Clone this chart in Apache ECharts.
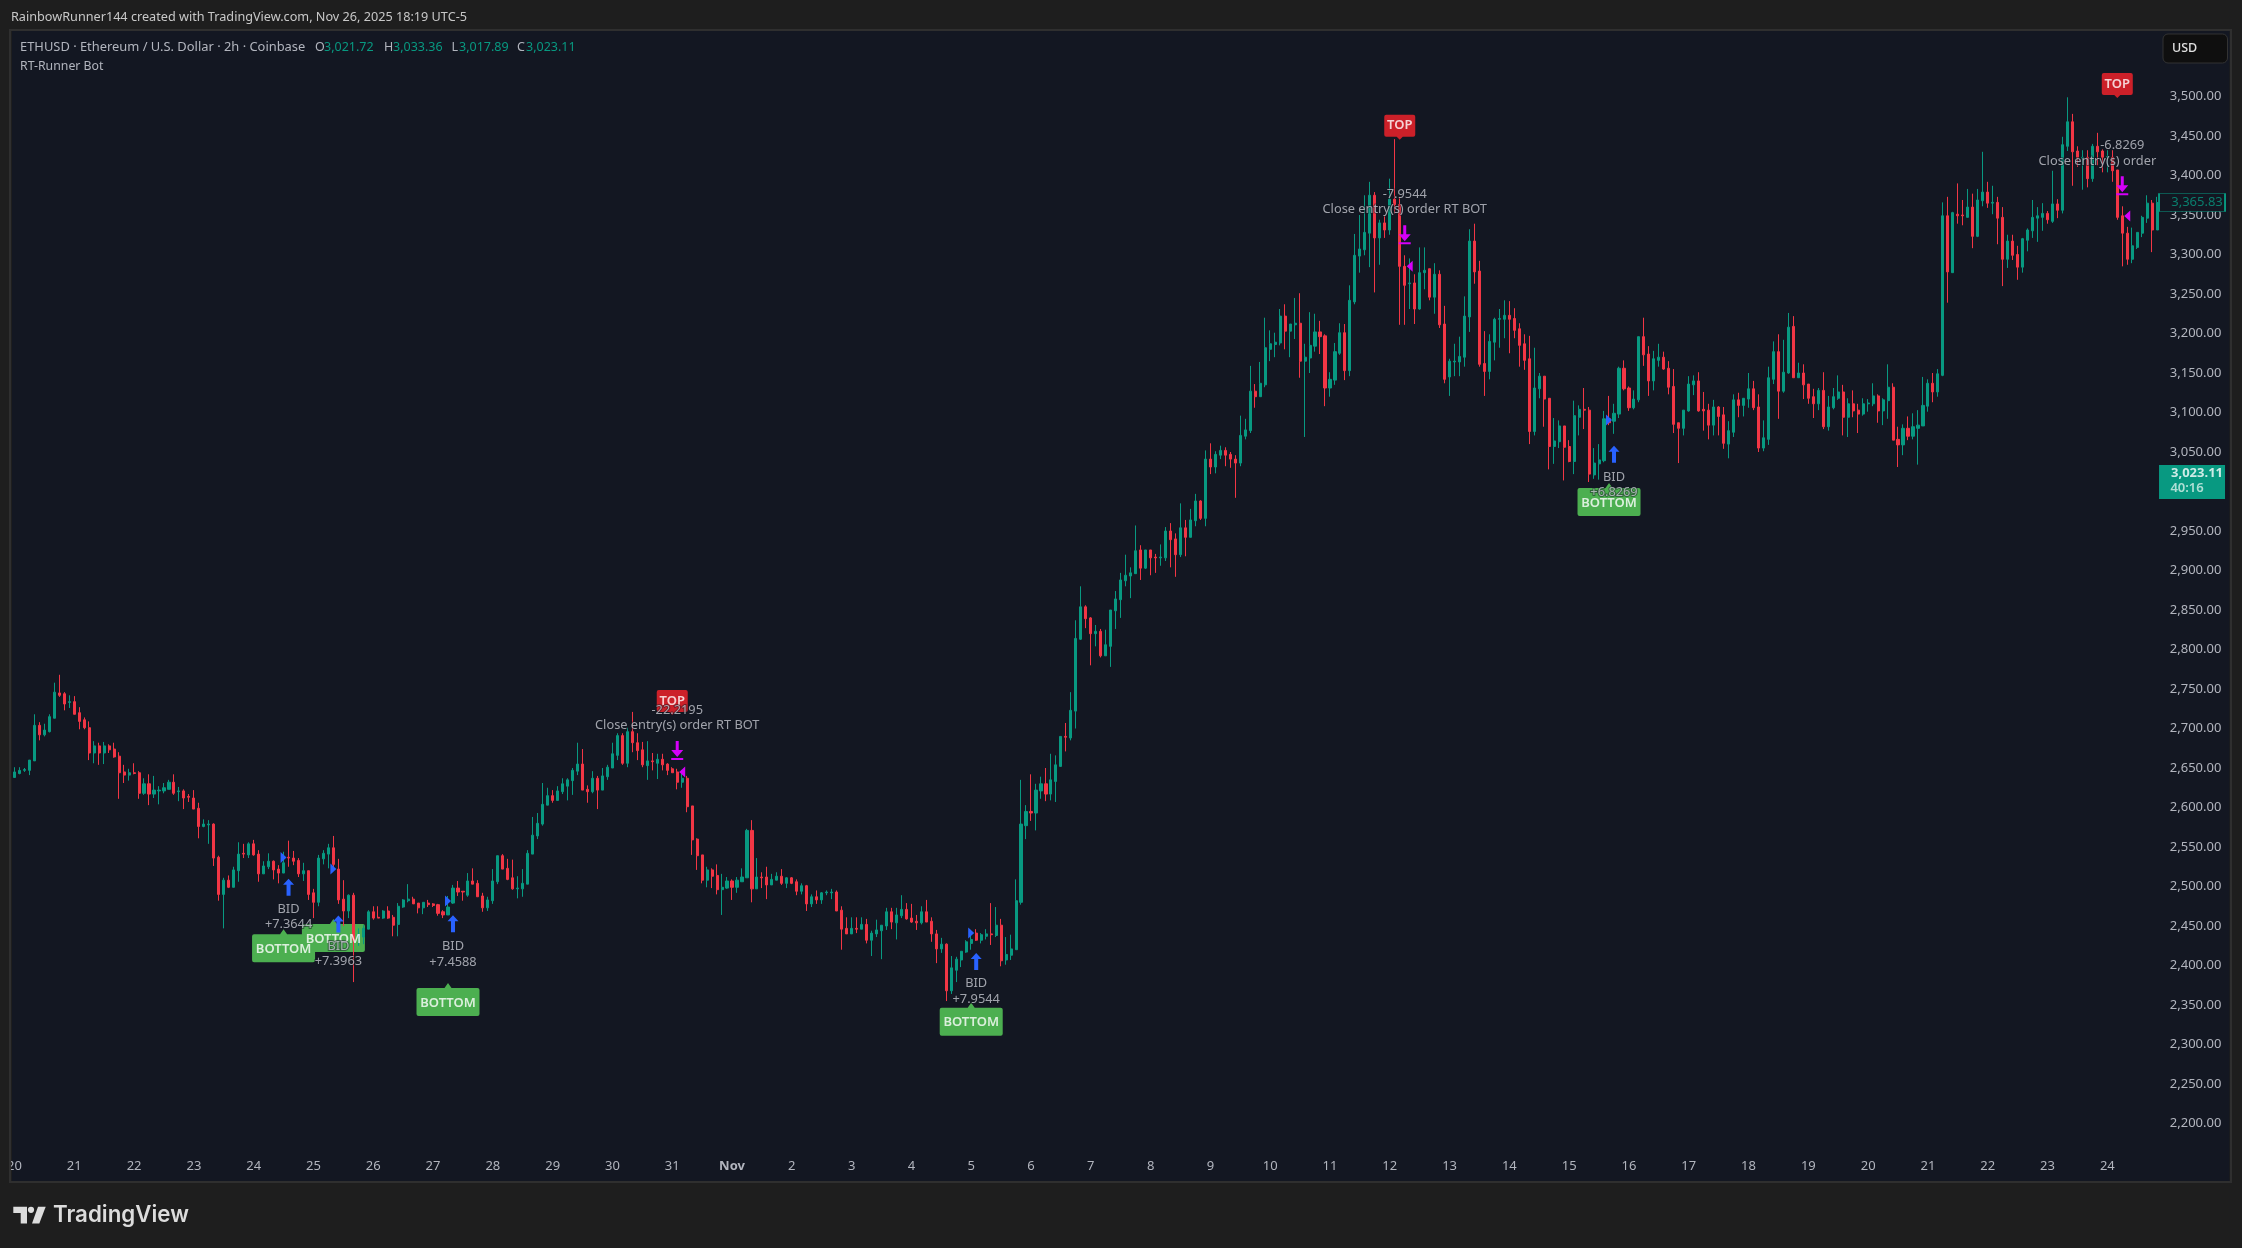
<!DOCTYPE html>
<html>
<head>
<meta charset="utf-8">
<title>ETHUSD 2h</title>
<script src="https://cdn.jsdelivr.net/npm/echarts@6/dist/echarts.min.js"></script>
<style>
  html, body { margin: 0; padding: 0; background: #1e1e1e; }
  #chart { width: 2242px; height: 1248px; }
</style>
</head>
<body>
<div id="chart"></div>
<script>
const opens = [
  2638,2643,2647,2647,2659,2704,2692,2696,2713,2745,
  2744,2733,2734,2720,2711,2701,2669,2678,2669,2678,
  2674,2665,2645,2641,2644,2644,2618,2630,2617,2621,
  2621,2623,2632,2620,2621,2614,2612,2599,2576,2578,
  2579,2537,2490,2508,2499,2520,2542,2540,2554,2541,
  2516,2525,2532,2522,2517,2537,2536,2533,2516,2520,
  2492,2480,2535,2541,2549,2522,2484,2469,2489,2436,
  2436,2446,2468,2461,2460,2469,2461,2452,2474,2482,
  2484,2479,2473,2479,2478,2477,2468,2464,2479,2498,
  2494,2489,2507,2504,2488,2473,2482,2506,2539,2523,
  2511,2497,2497,2503,2541,2564,2579,2603,2615,2609,
  2620,2627,2634,2646,2655,2623,2620,2637,2622,2639,
  2650,2666,2691,2656,2696,2682,2673,2653,2659,2656,
  2661,2655,2649,2645,2632,2637,2602,2560,2540,2508,
  2521,2514,2496,2498,2507,2499,2506,2511,2571,2497,
  2512,2512,2502,2508,2513,2504,2511,2506,2494,2501,
  2478,2487,2483,2492,2492,2493,2470,2447,2440,2447,
  2446,2452,2432,2440,2444,2450,2468,2454,2463,2471,
  2460,2456,2454,2468,2456,2440,2421,2427,2368,2394,
  2407,2417,2428,2441,2432,2437,2440,2438,2451,2407,
  2413,2420,2480,2577,2595,2593,2621,2630,2617,2633,
  2652,2690,2688,2722,2813,2854,2840,2820,2823,2792,
  2804,2849,2863,2887,2893,2896,2926,2903,2926,2917,
  2916,2916,2950,2940,2920,2954,2942,2963,2988,2966,
  3041,3031,3046,3052,3047,3041,3036,3070,3077,3127,
  3120,3135,3180,3186,3188,3222,3203,3211,3213,3165,
  3169,3184,3202,3197,3131,3141,3175,3201,3153,3240,
  3298,3306,3327,3375,3321,3340,3331,3370,3363,3285,
  3263,3264,3231,3277,3282,3246,3275,3212,3145,3164,
  3164,3170,3221,3317,3279,3162,3152,3189,3218,3218,
  3223,3219,3206,3187,3168,3076,3130,3146,3118,3057,
  3063,3083,3057,3038,3094,3104,3103,3021,3035,3039,
  3092,3089,3098,3156,3131,3106,3116,3196,3174,3140,
  3166,3170,3156,3133,3087,3080,3102,3135,3140,3104,
  3103,3084,3107,3097,3060,3075,3116,3109,3117,3130,
  3107,3055,3066,3142,3177,3127,3150,3209,3144,3150,
  3136,3120,3111,3128,3082,3106,3118,3126,3094,3111,
  3103,3098,3111,3111,3121,3102,3115,3132,3066,3059,
  3080,3070,3080,3083,3108,3137,3126,3147,3349,3277,
  3351,3350,3347,3360,3323,3368,3379,3365,3366,3347,
  3294,3317,3300,3284,3318,3330,3346,3347,3352,3342,
  3364,3356,3437,3468,3431,3422,3423,3396,3437,3431,
  3423,3423,3407,3349,3327,3294,3309,3327,3346,3365,3331
]

const closes = [
  2645,2647,2648,2660,2704,2692,2698,2715,2746,2742,
  2731,2734,2718,2709,2701,2669,2678,2669,2678,2673,
  2664,2644,2641,2644,2643,2618,2630,2617,2622,2622,
  2625,2632,2618,2621,2612,2613,2598,2576,2579,2579,
  2536,2490,2508,2499,2521,2541,2541,2554,2540,2516,
  2526,2532,2521,2517,2530,2536,2532,2516,2520,2490,
  2480,2536,2542,2549,2528,2483,2469,2489,2432,2439,
  2447,2468,2460,2460,2469,2460,2451,2475,2483,2484,
  2478,2473,2480,2477,2476,2466,2464,2474,2498,2493,
  2493,2507,2503,2487,2473,2483,2507,2539,2522,2509,
  2497,2498,2504,2542,2565,2580,2604,2615,2609,2621,
  2630,2635,2647,2655,2622,2620,2637,2622,2640,2651,
  2668,2691,2656,2696,2682,2672,2654,2659,2658,2661,
  2654,2647,2644,2632,2637,2601,2559,2539,2508,2521,
  2513,2496,2499,2507,2499,2508,2512,2571,2497,2512,
  2511,2502,2509,2513,2504,2511,2504,2494,2501,2478,
  2487,2483,2492,2493,2493,2469,2446,2440,2447,2446,
  2452,2432,2441,2445,2451,2468,2455,2464,2471,2459,
  2455,2454,2468,2455,2440,2421,2427,2368,2397,2408,
  2418,2430,2433,2432,2439,2440,2439,2451,2406,2414,
  2421,2482,2579,2595,2593,2622,2630,2617,2635,2654,
  2690,2689,2723,2814,2854,2839,2820,2823,2792,2806,
  2850,2864,2888,2894,2897,2925,2903,2926,2916,2916,
  2917,2950,2939,2920,2954,2942,2964,2988,2966,3041,
  3031,3047,3052,3046,3041,3036,3071,3078,3127,3120,
  3137,3182,3187,3189,3222,3203,3212,3213,3165,3170,
  3185,3202,3196,3131,3142,3177,3201,3153,3242,3299,
  3307,3328,3375,3321,3340,3331,3370,3363,3285,3261,
  3264,3231,3277,3280,3246,3275,3211,3142,3165,3165,
  3171,3222,3317,3278,3161,3152,3190,3218,3219,3223,
  3218,3204,3185,3166,3076,3131,3146,3117,3057,3064,
  3083,3056,3038,3096,3104,3103,3022,3036,3040,3092,
  3087,3099,3156,3130,3106,3117,3196,3173,3140,3168,
  3170,3155,3132,3085,3080,3103,3136,3140,3102,3102,
  3084,3107,3095,3061,3077,3116,3109,3118,3130,3106,
  3055,3068,3144,3177,3127,3151,3208,3144,3150,3135,
  3118,3111,3128,3082,3107,3120,3126,3094,3111,3102,
  3098,3111,3112,3121,3102,3116,3132,3065,3059,3080,
  3070,3082,3084,3109,3137,3126,3149,3349,3278,3353,
  3349,3349,3360,3323,3369,3379,3365,3366,3346,3294,
  3317,3299,3284,3320,3331,3347,3349,3352,3344,3364,
  3356,3439,3468,3430,3423,3423,3396,3437,3430,3423,
  3424,3406,3347,3327,3294,3311,3328,3347,3365,3331,3365.83
]

const highs = [
  2651,2651,2650,2660,2718,2708,2706,2718,2758,2768,
  2746,2742,2741,2727,2714,2709,2684,2682,2683,2680,
  2682,2670,2654,2649,2656,2646,2637,2642,2640,2627,
  2631,2635,2642,2626,2623,2617,2622,2606,2585,2584,
  2580,2539,2511,2514,2525,2556,2554,2556,2559,2546,
  2532,2542,2533,2527,2544,2558,2545,2536,2530,2520,
  2497,2540,2546,2554,2564,2535,2508,2490,2492,2447,
  2451,2470,2475,2475,2470,2475,2464,2479,2484,2503,
  2487,2479,2480,2483,2479,2478,2470,2488,2502,2507,
  2494,2517,2523,2508,2492,2487,2522,2539,2541,2535,
  2534,2513,2522,2546,2588,2593,2631,2625,2622,2627,
  2637,2637,2650,2682,2674,2628,2646,2640,2650,2654,
  2682,2694,2694,2701,2721,2694,2683,2684,2669,2668,
  2668,2656,2651,2649,2647,2640,2602,2561,2540,2525,
  2523,2528,2516,2512,2509,2512,2523,2573,2584,2536,
  2518,2525,2516,2518,2522,2512,2512,2509,2504,2502,
  2490,2495,2493,2495,2497,2495,2475,2461,2461,2461,
  2461,2459,2444,2458,2451,2473,2473,2473,2489,2479,
  2478,2464,2475,2483,2461,2445,2435,2428,2412,2411,
  2418,2432,2445,2446,2441,2446,2479,2474,2459,2436,
  2439,2509,2635,2603,2642,2630,2639,2650,2668,2666,
  2690,2707,2746,2837,2880,2856,2841,2831,2826,2825,
  2850,2874,2897,2920,2904,2957,2932,2926,2926,2921,
  2933,2955,2960,2947,2985,2964,2978,2997,2989,3052,
  3061,3051,3058,3056,3050,3046,3096,3092,3159,3136,
  3164,3220,3204,3201,3231,3237,3212,3245,3251,3187,
  3227,3225,3216,3199,3151,3188,3213,3212,3261,3326,
  3350,3375,3392,3379,3344,3349,3396,3446,3373,3299,
  3295,3275,3309,3309,3282,3289,3280,3235,3168,3187,
  3196,3247,3332,3339,3292,3203,3199,3220,3231,3242,
  3241,3232,3213,3199,3197,3182,3150,3146,3118,3093,
  3090,3083,3065,3115,3109,3131,3107,3055,3060,3102,
  3121,3111,3158,3166,3133,3128,3196,3220,3184,3178,
  3187,3177,3165,3155,3087,3103,3146,3147,3151,3126,
  3111,3116,3108,3107,3089,3123,3125,3118,3150,3140,
  3123,3090,3158,3190,3199,3192,3226,3222,3163,3161,
  3136,3130,3131,3151,3121,3131,3147,3135,3118,3128,
  3111,3118,3117,3137,3123,3118,3161,3137,3082,3085,
  3095,3099,3103,3145,3142,3150,3155,3366,3373,3354,
  3390,3369,3383,3377,3383,3430,3392,3387,3373,3360,
  3325,3325,3311,3321,3333,3369,3360,3365,3355,3406,
  3370,3449,3499,3478,3437,3432,3432,3440,3454,3433,
  3432,3432,3407,3361,3335,3334,3328,3349,3375,3369,3373
]

const lows = [
  2638,2642,2645,2641,2659,2685,2690,2695,2713,2740,
  2723,2726,2718,2699,2699,2660,2656,2654,2655,2669,
  2663,2611,2631,2634,2642,2611,2616,2603,2612,2604,
  2618,2623,2616,2608,2598,2607,2598,2561,2575,2554,
  2526,2482,2447,2498,2499,2506,2536,2536,2539,2506,
  2516,2522,2509,2504,2517,2525,2527,2512,2507,2483,
  2460,2475,2528,2523,2521,2478,2450,2460,2379,2425,
  2427,2446,2458,2460,2459,2459,2437,2437,2473,2480,
  2478,2466,2465,2474,2474,2463,2460,2464,2478,2488,
  2482,2487,2503,2487,2468,2469,2478,2503,2522,2508,
  2496,2485,2487,2503,2541,2560,2577,2603,2606,2609,
  2617,2609,2616,2641,2622,2606,2618,2598,2622,2635,
  2650,2660,2654,2651,2670,2660,2651,2635,2647,2636,
  2647,2641,2644,2623,2625,2594,2540,2521,2504,2499,
  2498,2490,2464,2497,2483,2492,2506,2511,2480,2497,
  2498,2484,2502,2508,2502,2498,2503,2489,2490,2469,
  2474,2478,2478,2489,2484,2469,2420,2440,2440,2441,
  2446,2428,2412,2436,2408,2445,2446,2433,2460,2458,
  2454,2445,2452,2455,2430,2403,2416,2355,2364,2379,
  2398,2416,2420,2431,2428,2433,2426,2436,2399,2401,
  2407,2420,2477,2560,2583,2571,2611,2608,2609,2607,
  2652,2671,2685,2700,2812,2827,2780,2804,2790,2792,
  2778,2826,2840,2880,2865,2896,2888,2902,2894,2897,
  2906,2912,2904,2892,2917,2918,2942,2956,2964,2956,
  3022,3023,3041,3032,3030,2992,3032,3066,3074,3106,
  3120,3132,3165,3170,3185,3180,3170,3193,3144,3069,
  3150,3177,3174,3108,3120,3135,3173,3141,3146,3237,
  3277,3299,3284,3252,3287,3321,3325,3352,3211,3211,
  3231,3212,3230,3256,3242,3225,3207,3137,3121,3146,
  3146,3158,3202,3263,3158,3121,3142,3166,3182,3194,
  3175,3194,3158,3154,3060,3071,3118,3082,3028,3035,
  3055,3014,3037,3022,3071,3079,3012,3016,3015,3037,
  3084,3073,3093,3128,3102,3104,3113,3159,3121,3128,
  3158,3154,3123,3074,3036,3071,3101,3122,3101,3077,
  3066,3071,3071,3054,3042,3069,3094,3095,3106,3103,
  3050,3051,3059,3136,3092,3125,3149,3144,3144,3117,
  3111,3093,3103,3079,3077,3104,3116,3071,3069,3094,
  3074,3096,3101,3108,3087,3084,3092,3065,3031,3046,
  3065,3066,3034,3083,3101,3113,3120,3146,3239,3277,
  3339,3337,3347,3308,3322,3361,3359,3351,3313,3260,
  3283,3293,3268,3277,3304,3321,3316,3330,3339,3340,
  3346,3352,3431,3387,3411,3382,3385,3392,3413,3404,
  3404,3392,3344,3285,3287,3289,3307,3322,3340,3303,3331
]

// one label every 12 bars (2h bars, so one a day)
const dayLabels = ['20','21','22','23','24','25','26','27','28','29','30','31','Nov',
  '2','3','4','5','6','7','8','9','10','11','12','13','14','15','16','17','18','19','20','21','22','23','24']
const emptyBars = 14

// signals: [bar, price]
const bottomBoxes = [[54, 2425], [64, 2438], [87, 2357], [192, 2332], [320, 2990]]
const topBoxes = [[132, 2733], [278, 3461], [422, 3514]]
const bidArrows = [[55, 2499], [65, 2452.5], [88, 2453], [193, 2405], [321, 3047]]
const entryMarks = [[54, 2536.6], [64, 2522], [87, 2481.6], [192, 2441], [320, 3090.5]]
const exitMarks = [[134, 2645], [280, 3285], [424, 3348.7]]
const exitArrows = [[133, 2672], [279, 3325], [423, 3387]]

const bottomLabels = [[54, 2420.5, 'BOTTOM'], [64, 2433.5, 'BOTTOM'], [87, 2352.5, 'BOTTOM'], [192, 2327.5, 'BOTTOM'], [320, 2985.5, 'BOTTOM']]
const topLabels = [[132, 2735, 'TOP'], [278, 3463, 'TOP'], [422, 3516, 'TOP']]
const orderLabels = [
  [55, 2470.5, 'BID'], [55, 2451.5, '+7.3644'],
  [65, 2423.7, 'BID'], [65, 2404.7, '+7.3963'],
  [88, 2424.6, 'BID'], [88, 2403.8, '+7.4588'],
  [193, 2377.2, 'BID'], [193, 2357, '+7.9544'],
  [321, 3017.7, 'BID'], [321, 2999.3, '+6.8269'],
  [133, 2722.4, '-22.2195'], [133, 2703.4, 'Close entry(s) order RT BOT'],
  [279, 3376, '-7.9544'], [279, 3357.5, 'Close entry(s) order RT BOT'],
  [423, 3438.5, '-6.8269'], [418, 3418.2, 'Close entry(s) order']
]

const lastBarClose = 3365.83
const lastPrice = 3023.11

const upColor = '#089981'
const downColor = '#f23645'
const paneColor = '#131722'
const frameColor = '#1e1e1e'
const lineColor = '#2f2f2f'
const textColor = '#b2b5be'
const fontName = '"Noto Sans", sans-serif'
const badgeBar = 437.3
const badgeTextBar = 437.6
const timerBar = 435.8

const categories = []
for (let i = 0; i < closes.length + emptyBars; i++) {
  categories.push(i % 12 === 0 && dayLabels[i / 12] ? dayLabels[i / 12] : '')
}

const candles = closes.map((c, i) => [opens[i], c, lows[i], highs[i]])

const textSeries = (data, z, label) => ({
  type: 'scatter',
  z,
  data,
  symbolSize: 0,
  silent: true,
  label: {
    show: true,
    position: 'inside',
    fontFamily: fontName,
    formatter: p => p.value[2],
    ...label,
  },
})

const markSeries = (data, z, symbol, symbolSize, color, extra) => ({
  type: 'scatter',
  z,
  data,
  symbol,
  symbolSize,
  silent: true,
  itemStyle: {color, opacity: 1},
  ...extra,
})

const frameText = (x, y, text, fill, size, weight) => ({
  type: 'text',
  z: 120,
  x,
  y,
  style: {
    text,
    fill: fill || textColor,
    fontSize: size || 12,
    fontWeight: weight || 'normal',
    fontFamily: fontName,
    verticalAlign: 'middle',
  },
})

const frameRect = (x, y, width, height, fill) => ({
  type: 'rect',
  z: 100,
  shape: {x, y, width, height},
  style: {fill},
  silent: true,
})

const option = {
  animation: false,
  backgroundColor: frameColor,
  grid: {
    left: 12,
    width: 2217.4,
    top: 17.5,
    height: 1185,
    show: true,
    backgroundColor: paneColor,
    borderWidth: 0,
  },
  xAxis: {
    type: 'category',
    data: categories,
    boundaryGap: true,
    axisLine: {show: false},
    axisTick: {show: false},
    splitLine: {show: false},
    axisLabel: {
      interval: 0,
      inside: true,
      margin: 30,
      color: textColor,
      fontSize: 13,
      fontFamily: fontName,
      formatter: v => (v === 'Nov' ? '{b|Nov}' : v),
      rich: {b: {fontWeight: 'bold', color: textColor, fontSize: 13, fontFamily: fontName}},
    },
  },
  yAxis: {
    type: 'value',
    position: 'right',
    min: 2100,
    max: 3600,
    interval: 50,
    axisLine: {show: false},
    axisTick: {show: false},
    splitLine: {show: false},
    axisLabel: {
      inside: true,
      margin: 8,
      padding: [2, 0, 0, 0],
      color: textColor,
      fontSize: 13,
      fontFamily: fontName,
      formatter: v => (v < 2200 || v > 3500 ? '' : v.toLocaleString('en-US', {minimumFractionDigits: 2})),
    },
  },
  series: [
    markSeries(bottomBoxes, 1, 'path://M28,5 L31.5,0 L35,5 L61,5 Q63,5 63,7 L63,31 Q63,33 61,33 L2,33 Q0,33 0,31 L0,7 Q0,5 2,5 Z', [63, 33], '#4caf50'),
    markSeries(topBoxes, 1, 'path://M2,0 L29,0 Q31,0 31,2 L31,20 Q31,22 29,22 L18.5,22 L15.5,25 L12.5,22 L2,22 Q0,22 0,20 L0,2 Q0,0 2,0 Z', [31, 25], '#cc2029'),
    {
      type: 'candlestick',
      z: 2,
      data: candles,
      barWidth: 2.6,
      itemStyle: {
        color: upColor,
        color0: downColor,
        borderColor: upColor,
        borderColor0: downColor,
        borderWidth: 1,
      },
    },
    markSeries(entryMarks, 4, 'triangle', [11, 6], '#2962ff', {symbolRotate: -90}),
    markSeries(exitMarks, 4, 'triangle', [11, 6], '#d500f9', {symbolRotate: 90}),
    markSeries(bidArrows, 4, 'path://M5.5,0 L11,6 L7.5,6 L7.5,17 L3.5,17 L3.5,6 L0,6 Z', [11, 17], '#2962ff'),
    markSeries(exitArrows, 4, 'path://M4.5,0 L7.5,0 L7.5,9 L12,9 L6,16 L0,9 L4.5,9 Z M0,17 L12,17 L12,19 L0,19 Z', [12, 19], '#d500f9'),
    textSeries(bottomLabels, 5, {color: '#ffffff', fontSize: 13, fontWeight: 600}),
    textSeries(topLabels, 5, {color: '#ffffff', fontSize: 13, fontWeight: 600}),
    textSeries(orderLabels, 6, {color: '#c4c6ce', fontSize: 12.8, textBorderColor: 'rgba(19,23,34,0.6)', textBorderWidth: 2}),
    markSeries([[badgeBar, lastBarClose]], 7, 'rect', [66, 18], paneColor, {
      itemStyle: {color: paneColor, borderColor: upColor, borderWidth: 1, opacity: 1},
    }),
    textSeries([[badgeTextBar, lastBarClose, '3,365.83']], 8, {color: upColor, fontSize: 13}),
    markSeries([[badgeBar, 3012]], 7, 'rect', [66, 34], upColor),
    textSeries([[badgeTextBar, lastPrice, '3,023.11']], 8, {color: '#ffffff', fontSize: 13, fontWeight: 'bold'}),
    textSeries([[timerBar, 3004.4, '40:16']], 8, {color: '#d8f0ea', fontSize: 13, fontWeight: 600}),
  ],
  graphic: [
    // frame round the pane, also clips the first day label
    frameRect(0, 0, 2242, 29, frameColor),
    frameRect(0, 1183, 2242, 65, frameColor),
    frameRect(0, 0, 9, 1248, frameColor),
    frameRect(2232, 0, 10, 1248, frameColor),
    frameRect(9, 29, 2223, 2, lineColor),
    frameRect(9, 1181, 2223, 2, lineColor),
    frameRect(9, 29, 2, 1154, lineColor),
    frameRect(2230, 29, 2, 1154, lineColor),

    frameText(11, 17, 'RainbowRunner144 created with TradingView.com, Nov 26, 2025 18:19 UTC-5', '#c8c8c8', 12.66),
    frameText(20, 47, 'ETHUSD · Ethereum / U.S. Dollar · 2h · Coinbase', textColor, 12.9),
    frameText(315, 47, 'O', textColor, 12.5),
    frameText(324, 47, '3,021.72', upColor, 12.5),
    frameText(384, 47, 'H', textColor, 12.5),
    frameText(393, 47, '3,033.36', upColor, 12.5),
    frameText(451.5, 47, 'L', textColor, 12.5),
    frameText(459, 47, '3,017.89', upColor, 12.5),
    frameText(517, 47, 'C', textColor, 12.5),
    frameText(526, 47, '3,023.11', upColor, 12.5),
    frameText(20, 66, 'RT-Runner Bot', textColor, 12.3),

    // currency button
    {
      type: 'rect',
      z: 110,
      shape: {x: 2163, y: 34, width: 64.5, height: 29, r: 5},
      style: {fill: '#0f0f0f', stroke: '#333333', lineWidth: 1},
    },
    frameText(2172, 48.5, 'USD', '#e0e0e0', 12.5, 500),

    // TradingView mark
    {
      type: 'polygon',
      z: 110,
      shape: {points: [[13.3, 1206.7], [27, 1206.7], [27, 1223.5], [20.7, 1223.5], [20.7, 1213], [13.3, 1213]]},
      style: {fill: '#dcdcdc'},
    },
    {type: 'circle', z: 110, shape: {cx: 31, cy: 1209.8, r: 3.1}, style: {fill: '#dcdcdc'}},
    {
      type: 'polygon',
      z: 110,
      shape: {points: [[38, 1206.7], [45.7, 1206.7], [39.3, 1223.5], [32, 1223.5]]},
      style: {fill: '#dcdcdc'},
    },
    {
      type: 'text',
      z: 120,
      x: 53,
      y: 1215,
      style: {
        text: 'TradingView',
        fill: '#dcdcdc',
        fontSize: 22.3,
        fontWeight: 600,
        fontFamily: 'Inter, sans-serif',
        verticalAlign: 'middle',
      },
    },
  ],
}

const chart = echarts.init(document.getElementById('chart'))
chart.setOption(option)
</script>
</body>
</html>
